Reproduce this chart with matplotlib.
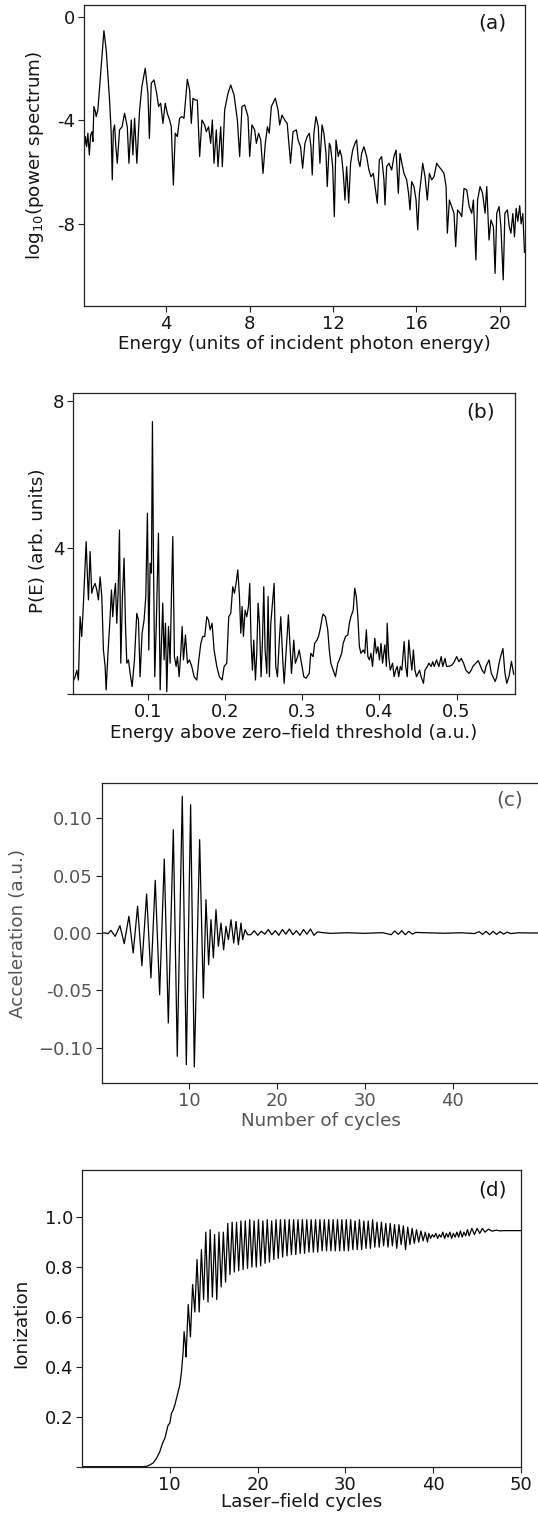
import numpy as np
import matplotlib
matplotlib.use("Agg")
import matplotlib.pyplot as plt

# -----------------------
# Data
# -----------------------
# (a) log10 power spectrum vs harmonic order
spec_lo = [(0.04, -5.28), (0.12, -4.63), (0.18, -5.02), (0.24, -4.50), (0.31, -5.34), (0.37, -4.57),
           (0.44, -4.44), (0.48, -4.82), (0.53, -3.47), (0.60, -3.67), (0.64, -3.86), (0.72, -3.60),
           (0.88, -1.93), (1.01, -0.54), (1.12, -1.29), (1.28, -3.22), (1.36, -4.50), (1.41, -6.30),
           (1.46, -4.40), (1.52, -4.18), (1.58, -5.00), (1.65, -5.66), (1.76, -4.37), (1.88, -4.25),
           (2.00, -3.73), (2.13, -4.25), (2.21, -5.66), (2.32, -3.99), (2.40, -5.34), (2.48, -3.92),
           (2.59, -5.66), (2.72, -3.60), (2.83, -2.70), (2.99, -1.99), (3.12, -2.96), (3.19, -4.70),
           (3.28, -2.57), (3.41, -2.44), (3.54, -2.96), (3.63, -3.47), (3.73, -3.34), (3.84, -4.12),
           (3.95, -3.34), (4.05, -3.73), (4.16, -3.99), (4.24, -4.25), (4.34, -6.50), (4.43, -4.50),
           (4.53, -4.63), (4.64, -3.92), (4.75, -3.86), (4.85, -3.92), (5.01, -2.42), (5.12, -2.83),
           (5.20, -4.12), (5.28, -3.15), (5.39, -3.22), (5.49, -3.22), (5.60, -5.40), (5.71, -3.99),
           (5.84, -4.18), (5.92, -4.44), (6.03, -4.25), (6.13, -4.89), (6.21, -3.99), (6.29, -5.66),
           (6.40, -4.37), (6.48, -5.79), (6.61, -4.25), (6.69, -5.79), (6.80, -3.60), (6.96, -2.96),
           (7.09, -2.64), (7.25, -3.02), (7.41, -3.99), (7.52, -5.40), (7.63, -3.47), (7.76, -3.41),
           (7.92, -3.86), (8.00, -5.40), (8.11, -4.18), (8.24, -4.37), (8.32, -4.89), (8.43, -4.50),
           (8.53, -4.76), (8.64, -6.05), (8.75, -4.89), (8.85, -4.25), (8.94, -4.50), (9.04, -3.47),
           (9.23, -3.15), (9.36, -3.60), (9.44, -4.18), (9.55, -3.80), (9.68, -3.99), (9.80, -4.12),
           (9.88, -4.89), (9.96, -5.66), (10.08, -4.44), (10.24, -4.37), (10.32, -4.76)]
spec_hi = [(10.44, -5.02), (10.54, -5.85), (10.65, -4.89), (10.76, -4.63), (10.86, -4.50), (10.94, -5.02),
           (11.00, -6.11), (11.08, -4.50), (11.18, -3.86), (11.29, -4.25), (11.37, -5.66), (11.47, -4.18),
           (11.56, -4.50), (11.66, -5.28), (11.72, -6.56), (11.82, -4.89), (11.88, -5.02), (11.98, -5.79),
           (12.06, -7.72), (12.14, -4.76), (12.25, -5.40), (12.33, -5.15), (12.41, -5.40), (12.49, -6.05),
           (12.57, -7.08), (12.65, -5.79), (12.75, -7.20), (12.84, -5.66), (12.94, -5.15), (13.05, -4.89),
           (13.13, -4.76), (13.21, -5.53), (13.29, -5.79), (13.37, -5.28), (13.48, -5.02), (13.61, -5.40),
           (13.72, -5.92), (13.82, -6.18), (13.93, -6.05), (14.06, -6.82), (14.12, -7.20), (14.22, -5.53),
           (14.33, -5.40), (14.44, -6.30), (14.49, -7.27), (14.57, -5.79), (14.68, -5.66), (14.81, -5.92),
           (14.92, -5.40), (15.02, -5.15), (15.13, -6.82), (15.21, -5.28), (15.30, -5.66), (15.40, -6.05),
           (15.53, -6.30), (15.62, -6.82), (15.69, -7.46), (15.77, -6.37), (15.88, -6.56), (15.98, -7.08),
           (16.06, -8.23), (16.14, -6.82), (16.20, -6.43), (16.30, -5.66), (16.41, -6.18), (16.52, -7.08),
           (16.62, -6.05), (16.73, -6.30), (16.84, -6.18), (16.97, -5.66), (17.08, -5.79), (17.21, -5.92),
           (17.32, -6.05), (17.42, -6.56), (17.48, -8.36), (17.58, -7.08), (17.69, -7.33), (17.80, -7.59),
           (17.88, -8.88), (17.97, -7.46), (18.09, -7.59), (18.17, -7.72), (18.28, -6.63), (18.41, -6.69),
           (18.53, -7.33), (18.65, -7.59), (18.73, -7.08), (18.85, -9.39), (18.93, -7.08), (19.05, -6.56),
           (19.17, -6.82), (19.29, -7.59), (19.37, -6.56), (19.48, -8.62), (19.57, -7.85), (19.69, -8.11),
           (19.77, -9.91), (19.85, -7.59), (19.96, -7.33), (20.05, -8.11), (20.16, -10.16), (20.24, -7.59),
           (20.36, -7.46), (20.45, -8.11), (20.53, -8.36), (20.62, -7.60), (20.70, -8.50), (20.78, -7.40),
           (20.86, -7.90), (20.95, -7.30), (21.02, -8.00), (21.10, -7.60), (21.18, -9.10)]

# (b) photoelectron spectrum P(E)
pe_lo = [(0.002, 0.30), (0.0056, 0.48), (0.0078, 0.66), (0.0099, 0.39), (0.0121, 2.12), (0.0142, 1.58),
         (0.0164, 2.49), (0.0199, 4.17), (0.0216, 3.21), (0.0229, 2.58), (0.0250, 3.90), (0.0272, 2.76),
         (0.0294, 2.94), (0.0315, 3.03), (0.0337, 2.85), (0.0358, 2.58), (0.0380, 3.21), (0.0402, 2.67),
         (0.0423, 1.21), (0.0445, 0.76), (0.0458, 0.12), (0.0484, 1.21), (0.0510, 2.12), (0.0527, 2.85),
         (0.0544, 2.12), (0.0561, 2.67), (0.0579, 3.03), (0.0596, 1.94), (0.0613, 2.76), (0.0631, 4.49),
         (0.0648, 0.85), (0.0669, 2.67), (0.0691, 3.72), (0.0708, 1.94), (0.0726, 0.85), (0.0747, 0.94),
         (0.0769, 0.57), (0.0795, 0.21), (0.0825, 0.94), (0.0855, 2.21), (0.0877, 2.03), (0.0898, 0.48),
         (0.0924, 1.67), (0.0950, 2.03), (0.0972, 2.67), (0.0993, 4.95), (0.1011, 1.21), (0.1028, 3.58),
         (0.1045, 3.31), (0.1058, 7.45), (0.1071, 3.76), (0.1088, 0.48), (0.1106, 1.76), (0.1136, 4.40),
         (0.1158, 0.12), (0.1175, 1.39), (0.1192, 2.49), (0.1209, 0.94), (0.1227, 1.94), (0.1244, 0.07),
         (0.1266, 1.85), (0.1287, 0.85), (0.1304, 2.67), (0.1322, 4.31), (0.1343, 1.03), (0.1365, 0.76),
         (0.1382, 1.03), (0.1404, 0.48), (0.1425, 1.12), (0.1443, 1.85), (0.1460, 0.94), (0.1486, 1.62),
         (0.1512, 0.85), (0.1538, 0.94), (0.1568, 0.76), (0.1598, 0.48), (0.1633, 0.39), (0.1659, 0.94),
         (0.1685, 1.39), (0.1710, 1.58), (0.1736, 1.58), (0.1762, 2.12), (0.1784, 2.03), (0.1806, 1.76),
         (0.1831, 1.94), (0.1857, 1.21), (0.1892, 0.76), (0.1926, 0.48), (0.1961, 0.39), (0.1987, 0.76),
         (0.2021, 0.85), (0.2047, 2.12), (0.2073, 2.21), (0.2099, 2.94), (0.2121, 2.76), (0.2142, 3.03),
         (0.2164, 3.40), (0.2186, 2.67), (0.2203, 1.67), (0.2220, 2.40), (0.2237, 1.58), (0.2259, 2.30),
         (0.2281, 2.12), (0.2302, 2.40), (0.2319, 3.03), (0.2337, 1.39), (0.2354, 0.66), (0.2371, 1.48),
         (0.2393, 0.39), (0.2410, 1.12), (0.2427, 2.49), (0.2445, 1.94), (0.2466, 0.48), (0.2484, 1.48),
         (0.2501, 2.94), (0.2518, 1.21), (0.2540, 0.57), (0.2557, 2.67), (0.2574, 0.48), (0.2592, 1.94),
         (0.2613, 2.49), (0.2635, 3.03), (0.2656, 0.76), (0.2678, 0.48), (0.2700, 1.39), (0.2721, 2.12),
         (0.2747, 0.94), (0.2765, 0.30)]
pe_hi = [(0.282, 2.17), (0.286, 0.57), (0.289, 1.48), (0.291, 0.85), (0.294, 1.03), (0.296, 1.21),
         (0.299, 0.85), (0.302, 0.48), (0.305, 0.44), (0.309, 0.57), (0.311, 1.12), (0.314, 1.03),
         (0.316, 1.39), (0.319, 1.48), (0.321, 1.58), (0.323, 1.76), (0.326, 2.12), (0.327, 2.19),
         (0.330, 2.12), (0.333, 1.76), (0.335, 1.21), (0.337, 0.85), (0.340, 0.66), (0.343, 0.48),
         (0.346, 0.85), (0.348, 0.94), (0.351, 1.12), (0.353, 1.39), (0.356, 1.58), (0.359, 1.62),
         (0.361, 1.94), (0.363, 2.12), (0.366, 2.30), (0.368, 2.90), (0.370, 2.67), (0.372, 2.12),
         (0.374, 1.30), (0.376, 1.12), (0.379, 1.21), (0.381, 1.12), (0.383, 1.76), (0.385, 1.03),
         (0.387, 0.94), (0.389, 1.12), (0.391, 0.76), (0.394, 1.53), (0.396, 1.12), (0.398, 1.30),
         (0.400, 0.94), (0.402, 1.39), (0.404, 0.85), (0.407, 1.35), (0.409, 0.76), (0.410, 1.94),
         (0.412, 1.03), (0.414, 0.66), (0.417, 0.85), (0.419, 0.48), (0.421, 0.66), (0.423, 0.76),
         (0.425, 0.48), (0.427, 0.76), (0.429, 0.66), (0.432, 1.44), (0.434, 0.76), (0.436, 0.48),
         (0.438, 1.48), (0.440, 1.03), (0.442, 0.66), (0.444, 1.21), (0.446, 0.66), (0.448, 0.48),
         (0.450, 0.57), (0.452, 0.66), (0.454, 0.48), (0.457, 0.30), (0.459, 0.66), (0.462, 0.76),
         (0.464, 0.85), (0.467, 0.76), (0.469, 0.89), (0.471, 0.76), (0.474, 0.94), (0.477, 0.76),
         (0.480, 1.03), (0.482, 0.76), (0.485, 0.98), (0.487, 0.76), (0.491, 0.77), (0.494, 0.80),
         (0.497, 0.89), (0.500, 1.03), (0.503, 0.89), (0.506, 0.98), (0.509, 0.85), (0.512, 0.66),
         (0.516, 0.57), (0.519, 0.66), (0.521, 0.76), (0.525, 0.85), (0.528, 0.92), (0.531, 0.76),
         (0.533, 0.66), (0.536, 0.57), (0.538, 0.76), (0.542, 0.94), (0.545, 0.57), (0.547, 0.48),
         (0.550, 0.35), (0.552, 0.48), (0.555, 0.85), (0.557, 1.03), (0.560, 1.25), (0.5625, 0.60),
         (0.565, 0.30), (0.568, 0.50), (0.571, 0.90), (0.574, 0.55)]

# (c) dipole acceleration: burst extrema, then the small residual ripple
acc_burst = [(0.0, 0.0), (0.50, 0.0), (0.76, -0.0006), (1.07, 0.0023), (1.56, -0.0029), (2.10, 0.0064),
             (2.59, -0.0093), (3.12, 0.0146), (3.61, -0.0175), (4.11, 0.0233), (4.60, -0.0285),
             (5.14, 0.0341), (5.63, -0.0393), (6.12, 0.0460), (6.62, -0.0539), (7.15, 0.0646),
             (7.61, -0.0786), (8.18, 0.0902), (8.63, -0.1077), (9.20, 0.1194), (9.66, -0.1150),
             (10.15, 0.1121), (10.57, -0.1170), (11.18, 0.0815), (11.60, -0.0568), (11.90, 0.0291),
             (12.20, -0.0277), (12.47, 0.0116), (12.74, -0.0218), (13.04, 0.0204), (13.31, -0.0116),
             (13.61, 0.0087), (13.91, -0.0146), (14.18, 0.0058), (14.45, -0.0058), (14.75, 0.0116),
             (15.06, -0.0087), (15.32, 0.0102), (15.59, -0.0102), (15.89, 0.0087), (16.08, -0.0058),
             (16.35, 0.0029), (16.65, -0.0015)]
acc_tail = [(17.0, -0.0015), (17.4, 0.002), (17.8, -0.002), (18.2, 0.0015), (18.6, -0.001), (19.0, 0.003),
            (19.4, -0.0015), (19.8, 0.002), (20.2, -0.002), (20.6, 0.003), (21.0, -0.001), (21.4, 0.0035),
            (21.8, -0.0015), (22.2, 0.002), (22.6, -0.002), (23.0, 0.003), (23.4, -0.001), (23.8, 0.0035),
            (24.2, -0.002), (24.6, 0.001), (25.0, 0.0005), (26.0, -0.0003), (28.0, 0.0002), (30.0, -0.0003),
            (32.0, 0.0003), (33.0, -0.0015), (33.4, 0.0018), (33.8, -0.0012), (34.2, 0.002), (34.6, -0.0015),
            (35.0, 0.0015), (35.4, -0.001), (35.8, 0.0005), (37.0, 0.0002), (39.0, -0.0002), (41.0, 0.0002),
            (42.5, -0.0005), (43.0, 0.0012), (43.4, -0.0012), (43.8, 0.0014), (44.2, -0.0014), (44.6, 0.0014),
            (45.0, -0.0012), (45.4, 0.0012), (45.8, -0.001), (46.2, 0.0008), (46.6, -0.0005), (47.5, 0.0002),
            (49.0, 0.0), (51.0, 0.0)]

# (d) ionization: rise, oscillation maxima / minima, settled tail
ion_rise = [(0.0, 0.0), (3.0, 0.0), (6.0, 0.0), (7.0, 0.0), (7.4, 0.002), (7.72, 0.007), (8.1, 0.015),
            (8.48, 0.033), (8.86, 0.06), (9.16, 0.093), (9.43, 0.113), (9.62, 0.14), (9.81, 0.167),
            (10.0, 0.174), (10.19, 0.214), (10.38, 0.227), (10.57, 0.247), (10.76, 0.274), (10.95, 0.30),
            (11.14, 0.327), (11.33, 0.381), (11.52, 0.461), (11.63, 0.541), (11.78, 0.488), (11.85, 0.44)]
ion_max = [(12.10, 0.65), (12.60, 0.73), (13.10, 0.83), (13.60, 0.87), (14.10, 0.94), (14.60, 0.95),
           (15.10, 0.93), (15.60, 0.94), (16.10, 0.94), (16.60, 0.975), (17.10, 0.98), (17.60, 0.98),
           (18.10, 0.985), (18.60, 0.985), (19.10, 0.99), (19.60, 0.985), (20.10, 0.99), (20.60, 0.985),
           (21.10, 0.99), (21.60, 0.985), (22.10, 0.99), (22.60, 0.99), (23.10, 0.99), (23.60, 0.99),
           (24.10, 0.99), (24.60, 0.99), (25.10, 0.99), (25.60, 0.99), (26.10, 0.99), (26.60, 0.99),
           (27.10, 0.99), (27.60, 0.99), (28.10, 0.99), (28.60, 0.99), (29.10, 0.99), (29.60, 0.99),
           (30.10, 0.99), (30.60, 0.99), (31.10, 0.985), (31.60, 0.99), (32.10, 0.985), (32.60, 0.985),
           (33.10, 0.99), (33.60, 0.98), (34.10, 0.98), (34.60, 0.975), (35.10, 0.975), (35.60, 0.97),
           (36.10, 0.97), (36.60, 0.965), (37.10, 0.96), (37.60, 0.955), (38.10, 0.95), (38.60, 0.945),
           (39.10, 0.94)]
ion_min = [(12.35, 0.52), (12.85, 0.62), (13.35, 0.62), (13.85, 0.67), (14.35, 0.66), (14.85, 0.68),
           (15.35, 0.67), (15.85, 0.72), (16.35, 0.74), (16.85, 0.77), (17.35, 0.78), (17.85, 0.785),
           (18.35, 0.79), (18.85, 0.795), (19.35, 0.80), (19.85, 0.80), (20.35, 0.805), (20.85, 0.815),
           (21.35, 0.82), (21.85, 0.83), (22.35, 0.835), (22.85, 0.84), (23.35, 0.845), (23.85, 0.85),
           (24.35, 0.85), (24.85, 0.855), (25.35, 0.855), (25.85, 0.86), (26.35, 0.86), (26.85, 0.86),
           (27.35, 0.865), (27.85, 0.865), (28.35, 0.865), (28.85, 0.865), (29.35, 0.865), (29.85, 0.865),
           (30.35, 0.865), (30.85, 0.87), (31.35, 0.87), (31.85, 0.87), (32.35, 0.875), (32.85, 0.875),
           (33.35, 0.88), (33.85, 0.88), (34.35, 0.885), (34.85, 0.88), (35.35, 0.885), (35.85, 0.875),
           (36.35, 0.89), (36.85, 0.87), (37.35, 0.89), (37.85, 0.895), (38.35, 0.90), (38.85, 0.905),
           (39.35, 0.90)]
ion_tail = [(39.5, 0.935), (39.7, 0.915), (39.9, 0.93), (40.1, 0.92), (40.3, 0.935), (40.5, 0.915),
            (40.7, 0.93), (40.9, 0.92), (41.1, 0.94), (41.3, 0.915), (41.5, 0.935), (41.7, 0.92),
            (41.9, 0.94), (42.1, 0.915), (42.3, 0.935), (42.5, 0.92), (42.7, 0.94), (42.9, 0.92),
            (43.1, 0.945), (43.3, 0.92), (43.5, 0.94), (43.7, 0.925), (43.9, 0.95), (44.1, 0.925),
            (44.4, 0.955), (44.7, 0.93), (45.0, 0.955), (45.3, 0.935), (45.6, 0.955), (45.9, 0.94),
            (46.3, 0.952), (46.7, 0.944), (47.2, 0.948), (47.6, 0.945), (48.0, 0.946), (50.0, 0.946)]

# tick values / labels
a_xticks = [4, 8, 12, 16, 20]
a_yticks = [0, -4, -8]
b_xticks = [0.1, 0.2, 0.3, 0.4, 0.5]
b_yticks = [0, 4, 8]
c_xticks = [10, 20, 30, 40]
c_yticks = [-0.10, -0.05, 0.00, 0.05, 0.10]
d_xticks = [10, 20, 30, 40, 50]
d_yticks = [0, 0.2, 0.4, 0.6, 0.8, 1.0]


def trace(*parts):
    pts = sorted(p for part in parts for p in part)
    arr = np.array(pts)
    return arr[:, 0], arr[:, 1]


# -----------------------
# Figure
# -----------------------
W, H = 538, 1515
plt.rcParams['font.family'] = ['DejaVu Sans']
plt.rcParams['mathtext.fontset'] = 'dejavusans'
INK = '#151515'
GREY = '#555555'
FS = 13.2   # axis labels
TS = 13.0   # tick labels

fig = plt.figure(figsize=(W / 100, H / 100), dpi=100)


def place(left, right, top, bottom):
    # box given in pixel edges of the page
    return fig.add_axes([left / W, 1 - bottom / H, (right - left) / W, (bottom - top) / H])


def style(ax, color=INK):
    for s in ax.spines.values():
        s.set_linewidth(0.9)
        s.set_color('#222222')
    ax.tick_params(direction='out', length=4, width=0.8, color='#222222',
                   labelcolor=color, labelsize=TS, pad=2.5)


# (a)
ax = place(83.7, 524.9, 5, 306)
x, y = trace(spec_lo, spec_hi)
ax.plot(x, y, color='black', lw=0.9)
ax.set_xlim(0.04, 21.2)
ax.set_ylim(-11.17, 0.45)
ax.set_xticks(a_xticks)
ax.set_yticks(a_yticks)
ax.set_yticklabels(['0', '-4', '-8'])
style(ax)
ax.set_xlabel('Energy (units of incident photon energy)', fontsize=FS, color=INK)
ax.set_ylabel(r'log$_{10}$(power spectrum)', fontsize=FS, color=INK)
ax.xaxis.set_label_coords(0.5, -0.097)
ax.yaxis.set_label_coords(-0.085, 0.5)
ax.text(0.927, 0.94, '(a)', transform=ax.transAxes, fontsize=14.5, ha='center', va='center', color=INK)

# (b)
ax = place(73.1, 514.5, 392.7, 694.3)
x, y = trace(pe_lo, pe_hi)
ax.plot(x, y, color='black', lw=0.9)
ax.set_xlim(0.003, 0.575)
ax.set_ylim(0, 8.24)
ax.set_xticks(b_xticks)
ax.set_yticks(b_yticks)
ax.set_yticklabels(['', '4', '8'])
style(ax)
ax.set_xlabel('Energy above zero\u2013field threshold (a.u.)', fontsize=FS, color=INK)
ax.set_ylabel('P(E) (arb. units)', fontsize=FS, color=INK)
ax.xaxis.set_label_coords(0.5, -0.1)
ax.yaxis.set_label_coords(-0.06, 0.51)
ax.text(0.924, 0.936, '(b)', transform=ax.transAxes, fontsize=14.5, ha='center', va='center', color=INK)

# (c)
ax = place(101.5, 540.5, 783, 1083)
x, y = trace(acc_burst, acc_tail)
ax.plot(x, y, color='black', lw=0.9)
ax.set_xlim(0, 50)
ax.set_ylim(-0.131, 0.131)
ax.set_xticks(c_xticks)
ax.set_yticks(c_yticks)
ax.set_yticklabels(['\u22120.10', '-0.05', '0.00', '0.05', '0.10'])
style(ax, GREY)
ax.set_xlabel('Number of cycles', fontsize=FS, color=GREY)
ax.set_ylabel('Acceleration (a.u.)', fontsize=FS, color=GREY)
ax.xaxis.set_label_coords(0.5, -0.098)
ax.yaxis.set_label_coords(-0.17, 0.5)
ax.text(0.93, 0.943, '(c)', transform=ax.transAxes, fontsize=14.5, ha='center', va='center', color=GREY)

# (d)
ax = place(82, 521, 1170, 1466.7)
x, y = trace(ion_rise, ion_max, ion_min, ion_tail)
ax.plot(x, y, color='black', lw=0.9)
ax.set_xlim(0, 50)
ax.set_ylim(0, 1.189)
ax.set_xticks(d_xticks)
ax.set_yticks(d_yticks)
ax.set_yticklabels(['', '0.2', '0.4', '0.6', '0.8', '1.0'])
style(ax)
ax.set_xlabel('Laser\u2013field cycles', fontsize=FS, color=INK)
ax.set_ylabel('Ionization', fontsize=FS, color=INK)
ax.xaxis.set_label_coords(0.5, -0.087)
ax.yaxis.set_label_coords(-0.118, 0.484)
ax.text(0.934, 0.933, '(d)', transform=ax.transAxes, fontsize=14.5, ha='center', va='center', color=INK)

fig.savefig('out.png', dpi=100)
